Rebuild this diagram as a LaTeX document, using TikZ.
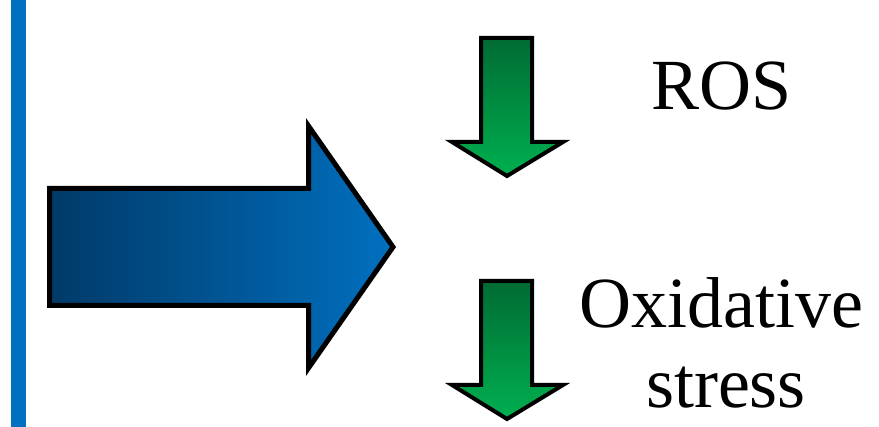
\documentclass[tikz,border=0pt]{standalone}
\usepackage{fontspec}
\setmainfont{Liberation Serif}
\definecolor{barblue}{RGB}{0,112,192}
\definecolor{darkblue}{RGB}{0,58,104}
\definecolor{darkgreen}{RGB}{0,107,51}
\definecolor{lightgreen}{RGB}{0,176,80}
\tikzset{
  bigarrow/.style={left color=darkblue, right color=barblue, draw=black, line width=5pt, line join=miter},
  greenarrow/.style={top color=darkgreen, bottom color=lightgreen, draw=black, line width=4pt, line join=miter},
  label/.style={inner sep=0pt, anchor=base, font=\fontsize{72}{80}\selectfont}
}
\begin{document}
\begin{tikzpicture}[x=1pt,y=1pt]
\useasboundingbox (0,0) rectangle (879,427);
% left bar
\fill[barblue] (11,0) rectangle (26,427);
% big arrow
\shadedraw[bigarrow] (49.5,121.5) -- (49.5,238.5) -- (308.5,238.5) -- (308.5,301) -- (393,180) -- (308.5,59) -- (308.5,121.5) -- cycle;
% green arrows
\shadedraw[greenarrow] (481,389) -- (532,389) -- (532,285) -- (563,285) -- (507,251) -- (452,285) -- (481,285) -- cycle;
\shadedraw[greenarrow] (481,146) -- (532,146) -- (532,42) -- (563,42) -- (507,8) -- (452,42) -- (481,42) -- cycle;
% texts
\node[label] (ros) at (722,317) {ROS};
\node[label] (ox) at (721,99) {Oxidative};
\node[label] (st) at (726,19) {stress};
\end{tikzpicture}
\end{document}
